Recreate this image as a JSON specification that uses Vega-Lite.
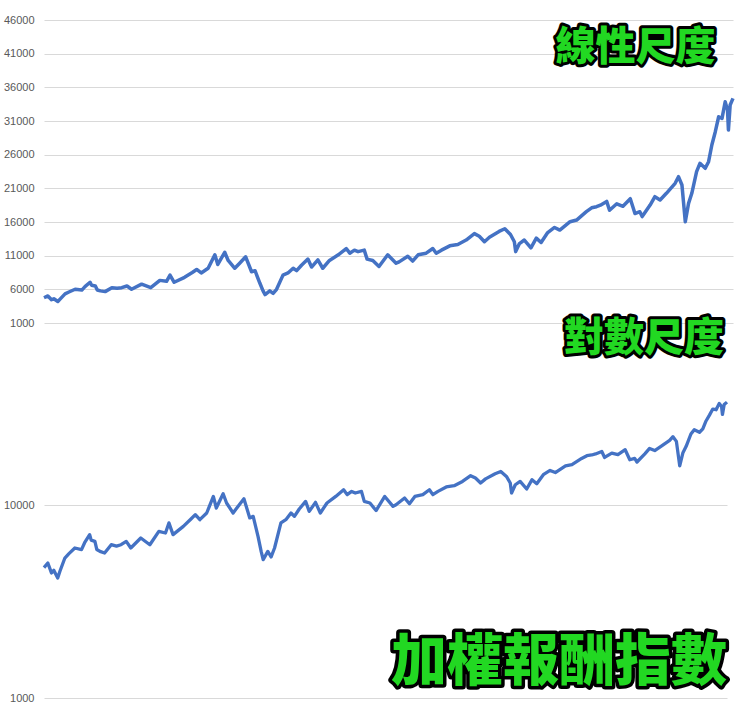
{
  "$schema": "https://vega.github.io/schema/vega-lite/v6.json",
  "padding": {"top": 14, "left": 3, "right": 5, "bottom": 0},
  "background": "white",
  "spacing": 7,
  "bounds": "flush",
  "config": {
    "view": {"stroke": null},
    "axis": {"labelFont": "Liberation Sans", "labelFontSize": 11, "labelColor": "#595959", "gridColor": "#d9d9d9", "gridWidth": 1, "domain": false, "ticks": false, "title": null, "labelPadding": 10, "labelOverlap": false}
  },
  "datasets": {
    "idx": [
      {"date": "2002-12-13", "value": 4750},
      {"date": "2003-01-20", "value": 5020},
      {"date": "2003-02-25", "value": 4460},
      {"date": "2003-03-20", "value": 4600},
      {"date": "2003-04-28", "value": 4200},
      {"date": "2003-05-20", "value": 4550},
      {"date": "2003-07-08", "value": 5330},
      {"date": "2003-08-15", "value": 5600},
      {"date": "2003-10-15", "value": 6010},
      {"date": "2003-12-20", "value": 5890},
      {"date": "2004-01-20", "value": 6400},
      {"date": "2004-03-10", "value": 7050},
      {"date": "2004-03-25", "value": 6600},
      {"date": "2004-05-01", "value": 6500},
      {"date": "2004-05-20", "value": 5900},
      {"date": "2004-06-20", "value": 5770},
      {"date": "2004-08-05", "value": 5660},
      {"date": "2004-10-10", "value": 6250},
      {"date": "2004-12-01", "value": 6150},
      {"date": "2005-01-15", "value": 6250},
      {"date": "2005-03-08", "value": 6500},
      {"date": "2005-04-22", "value": 6010},
      {"date": "2005-07-30", "value": 6770},
      {"date": "2005-10-28", "value": 6250},
      {"date": "2006-01-25", "value": 7330},
      {"date": "2006-04-01", "value": 7190},
      {"date": "2006-05-05", "value": 8110},
      {"date": "2006-06-15", "value": 7050},
      {"date": "2006-09-25", "value": 7780},
      {"date": "2006-12-10", "value": 8500},
      {"date": "2007-01-22", "value": 8950},
      {"date": "2007-03-08", "value": 8430},
      {"date": "2007-05-15", "value": 9130},
      {"date": "2007-07-20", "value": 11130},
      {"date": "2007-08-18", "value": 9690},
      {"date": "2007-10-25", "value": 11500},
      {"date": "2007-11-28", "value": 10290},
      {"date": "2008-02-01", "value": 9130},
      {"date": "2008-03-20", "value": 9880},
      {"date": "2008-05-18", "value": 10830},
      {"date": "2008-07-15", "value": 8610},
      {"date": "2008-08-18", "value": 8770},
      {"date": "2008-10-05", "value": 6900},
      {"date": "2008-11-05", "value": 5770},
      {"date": "2008-11-25", "value": 5225},
      {"date": "2009-01-10", "value": 5770},
      {"date": "2009-02-12", "value": 5400},
      {"date": "2009-03-18", "value": 6010},
      {"date": "2009-05-20", "value": 8110},
      {"date": "2009-07-08", "value": 8430},
      {"date": "2009-08-28", "value": 9130},
      {"date": "2009-10-01", "value": 8770},
      {"date": "2009-11-18", "value": 9580},
      {"date": "2010-01-20", "value": 10490},
      {"date": "2010-02-25", "value": 9310},
      {"date": "2010-04-28", "value": 10370},
      {"date": "2010-06-15", "value": 9130},
      {"date": "2010-08-20", "value": 10290},
      {"date": "2010-11-15", "value": 11130},
      {"date": "2011-02-01", "value": 12060},
      {"date": "2011-03-08", "value": 11370},
      {"date": "2011-04-22", "value": 11820},
      {"date": "2011-05-28", "value": 11600},
      {"date": "2011-07-28", "value": 11820},
      {"date": "2011-08-25", "value": 10490},
      {"date": "2011-10-20", "value": 10290},
      {"date": "2011-12-20", "value": 9400},
      {"date": "2012-03-15", "value": 11130},
      {"date": "2012-06-05", "value": 9880},
      {"date": "2012-07-05", "value": 10080},
      {"date": "2012-09-28", "value": 10920},
      {"date": "2012-11-15", "value": 10200},
      {"date": "2013-01-08", "value": 11130},
      {"date": "2013-03-28", "value": 11370},
      {"date": "2013-06-01", "value": 12060},
      {"date": "2013-07-05", "value": 11370},
      {"date": "2013-08-25", "value": 11820},
      {"date": "2013-11-15", "value": 12460},
      {"date": "2014-02-02", "value": 12660},
      {"date": "2014-04-25", "value": 13320},
      {"date": "2014-07-15", "value": 14270},
      {"date": "2014-09-01", "value": 13880},
      {"date": "2014-10-22", "value": 13070},
      {"date": "2014-12-10", "value": 13730},
      {"date": "2015-03-15", "value": 14600},
      {"date": "2015-05-10", "value": 15000},
      {"date": "2015-07-05", "value": 14140},
      {"date": "2015-08-12", "value": 13070},
      {"date": "2015-08-25", "value": 11600},
      {"date": "2015-10-01", "value": 12800},
      {"date": "2015-11-18", "value": 13320},
      {"date": "2016-01-22", "value": 12170},
      {"date": "2016-03-15", "value": 13600},
      {"date": "2016-05-01", "value": 12960},
      {"date": "2016-07-05", "value": 14430},
      {"date": "2016-09-10", "value": 15190},
      {"date": "2016-11-01", "value": 14800},
      {"date": "2017-02-10", "value": 16040},
      {"date": "2017-04-15", "value": 16290},
      {"date": "2017-07-20", "value": 17530},
      {"date": "2017-09-10", "value": 18110},
      {"date": "2017-10-28", "value": 18270},
      {"date": "2017-12-05", "value": 18500},
      {"date": "2018-02-05", "value": 19060},
      {"date": "2018-03-05", "value": 17740},
      {"date": "2018-05-15", "value": 18700},
      {"date": "2018-07-15", "value": 18330},
      {"date": "2018-09-25", "value": 19460},
      {"date": "2018-11-10", "value": 17260},
      {"date": "2018-12-28", "value": 17530},
      {"date": "2019-01-20", "value": 16800},
      {"date": "2019-04-08", "value": 18520},
      {"date": "2019-05-25", "value": 19760},
      {"date": "2019-07-15", "value": 19270},
      {"date": "2019-09-15", "value": 20260},
      {"date": "2019-12-10", "value": 21750},
      {"date": "2020-01-12", "value": 22730},
      {"date": "2020-02-15", "value": 21500},
      {"date": "2020-03-19", "value": 16040},
      {"date": "2020-04-20", "value": 18770},
      {"date": "2020-05-22", "value": 20260},
      {"date": "2020-07-08", "value": 23470},
      {"date": "2020-08-10", "value": 24720},
      {"date": "2020-10-01", "value": 23970},
      {"date": "2020-11-03", "value": 24960},
      {"date": "2020-12-05", "value": 27430},
      {"date": "2021-01-08", "value": 29410},
      {"date": "2021-02-10", "value": 31630},
      {"date": "2021-03-15", "value": 31380},
      {"date": "2021-04-15", "value": 33860},
      {"date": "2021-05-08", "value": 32630},
      {"date": "2021-05-17", "value": 29660},
      {"date": "2021-06-03", "value": 33370},
      {"date": "2021-07-01", "value": 34370}
    ]
  },
  "vconcat": [
    {
      "width": 689,
      "height": 303,
      "layer": [
        {
          "data": {"name": "idx"},
          "mark": {"type": "line", "color": "#4472c4", "strokeWidth": 3.5, "strokeJoin": "round"},
          "encoding": {
            "x": {"field": "date", "type": "temporal", "axis": null, "scale": {"nice": false}},
            "y": {"field": "value", "type": "quantitative", "scale": {"domain": [1000, 46000], "nice": false, "zero": false}, "axis": {"values": [1000, 6000, 11000, 16000, 21000, 26000, 31000, 36000, 41000, 46000], "tickCount": 20, "format": "d"}}
          }
        },
        {
          "data": {"values": [{}]},
          "mark": {"type": "text", "font": "Noto Sans CJK TC", "fontWeight": 900, "fontSize": 40, "align": "right", "baseline": "middle", "stroke": "black", "strokeWidth": 6, "strokeJoin": "round", "fill": "black"},
          "encoding": {
            "x": {"datum": {"year": 2021, "month": 1, "date": 10}, "type": "temporal"},
            "y": {"datum": 41800, "type": "quantitative"},
            "text": {"value": "線性尺度"}
          }
        },
        {
          "data": {"values": [{}]},
          "mark": {"type": "text", "font": "Noto Sans CJK TC", "fontWeight": 900, "fontSize": 40, "align": "right", "baseline": "middle", "fill": "#22d822"},
          "encoding": {
            "x": {"datum": {"year": 2021, "month": 1, "date": 10}, "type": "temporal"},
            "y": {"datum": 41800, "type": "quantitative"},
            "text": {"value": "線性尺度"}
          }
        }
      ]
    },
    {
      "width": 683,
      "height": 368,
      "layer": [
        {
          "data": {"name": "idx"},
          "mark": {"type": "line", "color": "#4472c4", "strokeWidth": 3.3, "strokeJoin": "round"},
          "encoding": {
            "x": {"field": "date", "type": "temporal", "axis": null, "scale": {"nice": false}},
            "y": {"field": "value", "type": "quantitative", "scale": {"type": "log", "domain": [1000, 81400], "nice": false}, "axis": {"values": [1000, 10000], "tickCount": 5, "format": "d"}}
          }
        },
        {
          "data": {"values": [{}]},
          "mark": {"type": "text", "font": "Noto Sans CJK TC", "fontWeight": 900, "fontSize": 40, "align": "right", "baseline": "middle", "stroke": "black", "strokeWidth": 6, "strokeJoin": "round", "fill": "black"},
          "encoding": {
            "x": {"datum": {"year": 2021, "month": 6, "date": 1}, "type": "temporal"},
            "y": {"datum": 73400, "type": "quantitative"},
            "text": {"value": "對數尺度"}
          }
        },
        {
          "data": {"values": [{}]},
          "mark": {"type": "text", "font": "Noto Sans CJK TC", "fontWeight": 900, "fontSize": 40, "align": "right", "baseline": "middle", "fill": "#22d822"},
          "encoding": {
            "x": {"datum": {"year": 2021, "month": 6, "date": 1}, "type": "temporal"},
            "y": {"datum": 73400, "type": "quantitative"},
            "text": {"value": "對數尺度"}
          }
        },
        {
          "data": {"values": [{}]},
          "mark": {"type": "text", "font": "Noto Sans CJK TC", "fontWeight": 900, "fontSize": 56, "align": "right", "baseline": "middle", "stroke": "black", "strokeWidth": 7, "strokeJoin": "round", "fill": "black"},
          "encoding": {
            "x": {"datum": {"year": 2021, "month": 7, "date": 1}, "type": "temporal"},
            "y": {"datum": 1526, "type": "quantitative"},
            "text": {"value": "加權報酬指數"}
          }
        },
        {
          "data": {"values": [{}]},
          "mark": {"type": "text", "font": "Noto Sans CJK TC", "fontWeight": 900, "fontSize": 56, "align": "right", "baseline": "middle", "fill": "#22d822"},
          "encoding": {
            "x": {"datum": {"year": 2021, "month": 7, "date": 1}, "type": "temporal"},
            "y": {"datum": 1526, "type": "quantitative"},
            "text": {"value": "加權報酬指數"}
          }
        }
      ]
    }
  ]
}
